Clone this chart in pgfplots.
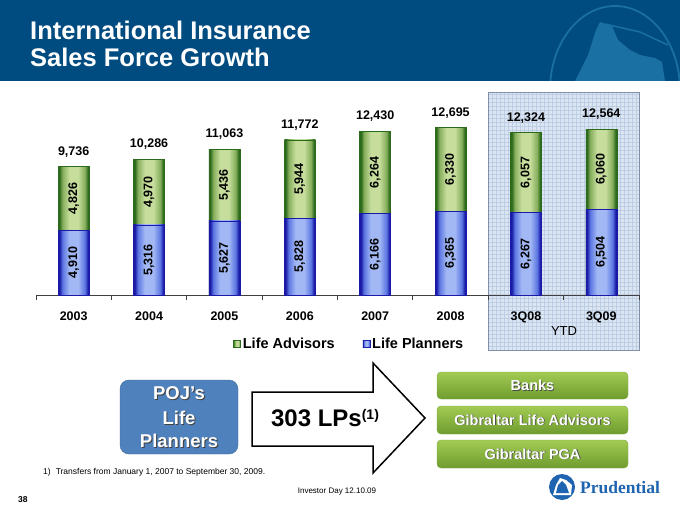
\documentclass[border=0pt]{standalone}
\usepackage{pgfplots}
\pgfplotsset{compat=1.18}
\usepackage{pgfplotstable}
\usepackage{fontspec}
\setmainfont{Liberation Sans}
\newfontfamily\serifb{Liberation Serif}

\definecolor{hdr}{HTML}{004B7F}
\definecolor{logo}{HTML}{1A6FA3}
\definecolor{bDark}{HTML}{1A1AA6}
\definecolor{bMid}{HTML}{5C76E2}
\definecolor{bLight}{HTML}{A2B8F4}
\definecolor{gDark}{HTML}{2C6A1C}
\definecolor{gMid}{HTML}{86AE5C}
\definecolor{gLight}{HTML}{C6DD9C}
\definecolor{ytdfill}{HTML}{DCE6F2}
\definecolor{ytdgrid}{HTML}{BCCDE4}
\definecolor{ytdborder}{HTML}{8090A8}
\definecolor{pojblue}{HTML}{4F81BD}
\definecolor{pojborder}{HTML}{3C6A9E}
\definecolor{gTop}{HTML}{A3CB54}
\definecolor{gBot}{HTML}{6E9C2E}
\definecolor{gBorder}{HTML}{7DA83E}
\definecolor{prublue}{HTML}{1E64B0}

\pgfdeclarehorizontalshading{bluebar}{100bp}{color(0bp)=(bDark); color(25bp)=(bDark); color(27bp)=(bDark); color(32bp)=(bMid); color(43bp)=(bLight); color(57bp)=(bLight); color(68bp)=(bMid); color(73bp)=(bDark); color(75bp)=(bDark); color(100bp)=(bDark)}
\pgfdeclarehorizontalshading{greenbar}{100bp}{color(0bp)=(gDark); color(25bp)=(gDark); color(27bp)=(gDark); color(32bp)=(gMid); color(43bp)=(gLight); color(57bp)=(gLight); color(68bp)=(gMid); color(73bp)=(gDark); color(75bp)=(gDark); color(100bp)=(gDark)}

\pgfplotsset{
  sqleg/.style={legend image code/.code={\draw[##1] (0pt,-3.5pt) rectangle (7pt,3.5pt);}},
  greenstyle/.style={ybar, bar width=31pt, bar shift=0pt, shade, shading=greenbar, draw=gDark, line width=0.5pt, sqleg},
  bluestyle/.style={ybar, bar width=31pt, bar shift=0pt, shade, shading=bluebar, draw=bDark, line width=0.5pt, sqleg},
}

\pgfplotstableread{
x lp la total
0 4910 4826 9736
1 5316 4970 10286
2 5627 5436 11063
3 5828 5944 11772
4 6166 6264 12430
5 6365 6330 12695
6 6267 6057 12324
7 6504 6060 12564
}\datatab

\newcommand{\lab}{\fontsize{12.5}{14}\selectfont\bfseries}

\begin{document}
\begin{tikzpicture}[x=1pt,y=1pt]
\useasboundingbox (0,0) rectangle (680,507);
\fill[white] (0,0) rectangle (680,507);
% header
\fill[hdr] (0,426) rectangle (680,507);
\begin{scope}
\clip (0,426) rectangle (680,507);
\draw[logo, line width=1.8pt] (615,417) ellipse [x radius=65, y radius=84];
\fill[logo] (575,426) -- (588,452) -- (596,477) -- (600,485) -- (612,481) -- (618,467) -- (630,457) -- (640,452) -- (655,449) -- (662,445) -- (665,426) -- cycle;
\draw[logo, line width=1.5pt] (605,483) -- (640,475) -- (668,462);
\end{scope}
\node[anchor=base west, text=white, font=\fontsize{25.5}{30}\selectfont\bfseries, inner sep=0] at (30,467) {International Insurance};
\node[anchor=base west, text=white, font=\fontsize{25.5}{30}\selectfont\bfseries, inner sep=0] at (30,440) {Sales Force Growth};

% YTD box
\begin{scope}
\clip (488,157) rectangle (639,415);
\fill[ytdfill] (488,157) rectangle (639,415);
\foreach \i in {0,...,38} \draw[ytdgrid, line width=0.4pt] (488+4*\i,157) -- ++(0,258);
\foreach \i in {0,...,65} \draw[ytdgrid, line width=0.4pt] (488,157+4*\i) -- ++(151,0);
\end{scope}
\draw[ytdborder, line width=0.7pt] (488,157) rectangle (639,415);
\node[font=\fontsize{13}{15}\selectfont] at (564,176) {YTD};

\begin{axis}[
  at={(36pt,212pt)}, anchor=south west,
  scale only axis, width=603pt, height=184.5pt,
  xmin=-0.5, xmax=7.5, ymin=0, ymax=14000,
  clip=false,
  axis y line=none, axis x line*=bottom,
  x axis line style={black!75, line width=0.8pt},
  xtick={0,...,7},
  xticklabels={2003,2004,2005,2006,2007,2008,3Q08,3Q09},
  major tick length=0pt,
  minor xtick={-0.5,0.5,...,7.5},
  minor tick length=5pt,
  tick align=outside,
  minor tick style={black!75, line width=0.8pt},
  xticklabel style={font=\lab, yshift=-13pt},
  /pgf/number format/1000 sep={,},
  /pgf/number format/assume math mode=true,
  legend style={at={(0.327,-0.2656)}, anchor=west, draw=none, fill=none, inner sep=0pt,
     font=\fontsize{14.5}{17}\selectfont\bfseries,
     /tikz/every even column/.append style={column sep=26pt}},
  legend columns=2,
]
\addlegendimage{greenstyle}
\addlegendentry{Life Advisors}
\addlegendimage{bluestyle}
\addlegendentry{Life Planners}
\pgfplotsinvokeforeach{0,...,7}{
  \addplot[greenstyle, forget plot, restrict expr to domain={\coordindex}{#1:#1}]
    table[x=x, y=total]{\datatab};
  \addplot[bluestyle, forget plot, restrict expr to domain={\coordindex}{#1:#1}]
    table[x=x, y=lp]{\datatab};
}
% inner labels
\addplot[draw=none, mark=none, forget plot, nodes near coords, point meta=explicit,
  every node near coord/.append style={rotate=90, anchor=center, font=\lab, text=black}]
  table[x=x, y expr=\thisrow{lp}/2, meta=lp]{\datatab};
\addplot[draw=none, mark=none, forget plot, nodes near coords, point meta=explicit,
  every node near coord/.append style={rotate=90, anchor=center, font=\lab, text=black}]
  table[x=x, y expr=\thisrow{lp}+\thisrow{la}/2, meta=la]{\datatab};
% totals
\addplot[draw=none, mark=none, forget plot, nodes near coords, point meta=explicit,
  every node near coord/.append style={anchor=south, yshift=6pt, font=\lab, text=black}]
  table[x=x, y=total, meta=total]{\datatab};
\end{axis}

% lower section
\draw[fill=pojblue, draw=pojborder, rounded corners=9pt] (120,53) rectangle (238,127);
\foreach \yy/\tt in {114/POJ’s, 89/Life, 66/Planners} {
  \node[text=black!75, font=\fontsize{18.5}{22}\selectfont\bfseries] at (180,\yy-1) {\tt};
  \node[text=white, font=\fontsize{18.5}{22}\selectfont\bfseries] at (179,\yy) {\tt};
}
\draw[black, line width=1.5pt, fill=white, line join=miter] (252,115) -- (373,115) -- (373,144) -- (425,89) -- (373,34) -- (373,61) -- (252,61) -- cycle;
\node[font=\fontsize{24}{28}\selectfont\bfseries] at (325,89) {303 LPs\raisebox{7pt}{\fontsize{14}{16}\selectfont(1)}};

\foreach \yb/\yt/\txt in {108/135/Banks, 73/101/Gibraltar Life Advisors, 39/67/Gibraltar PGA} {
  \path[top color=gTop, bottom color=gBot, draw=gBorder, rounded corners=4pt] (437,\yb) rectangle (628,\yt);
  \node[text=black!70, font=\fontsize{14.5}{17}\selectfont\bfseries] at (533.3,{(\yb+\yt)/2-0.8}) {\txt};
  \node[text=white, font=\fontsize{14.5}{17}\selectfont\bfseries] at (532.5,{(\yb+\yt)/2}) {\txt};
}

\node[anchor=west, font=\fontsize{8.5}{10}\selectfont, inner sep=0] at (43,35) {1)\hspace{5pt}Transfers from January 1, 2007 to September 30, 2009.};
\node[anchor=west, font=\fontsize{8.5}{10}\selectfont\bfseries, inner sep=0] at (18,7) {38};
\node[font=\fontsize{8}{10}\selectfont] at (337,15) {Investor Day 12.10.09};

% Prudential logo
\fill[prublue] (562,20) circle (13);
\fill[white] (553,12) -- (556,22) -- (560,29) -- (566,27) -- (572,22) -- (571,12) -- cycle;
\fill[prublue] (556,14) -- (558,22) -- (562,26) -- (566,22) -- (569,14) -- cycle;
\node[anchor=base west, font=\serifb\bfseries\fontsize{17.5}{20}\selectfont, text=prublue, inner sep=0] at (580,14) {Prudential};
\end{tikzpicture}
\end{document}
